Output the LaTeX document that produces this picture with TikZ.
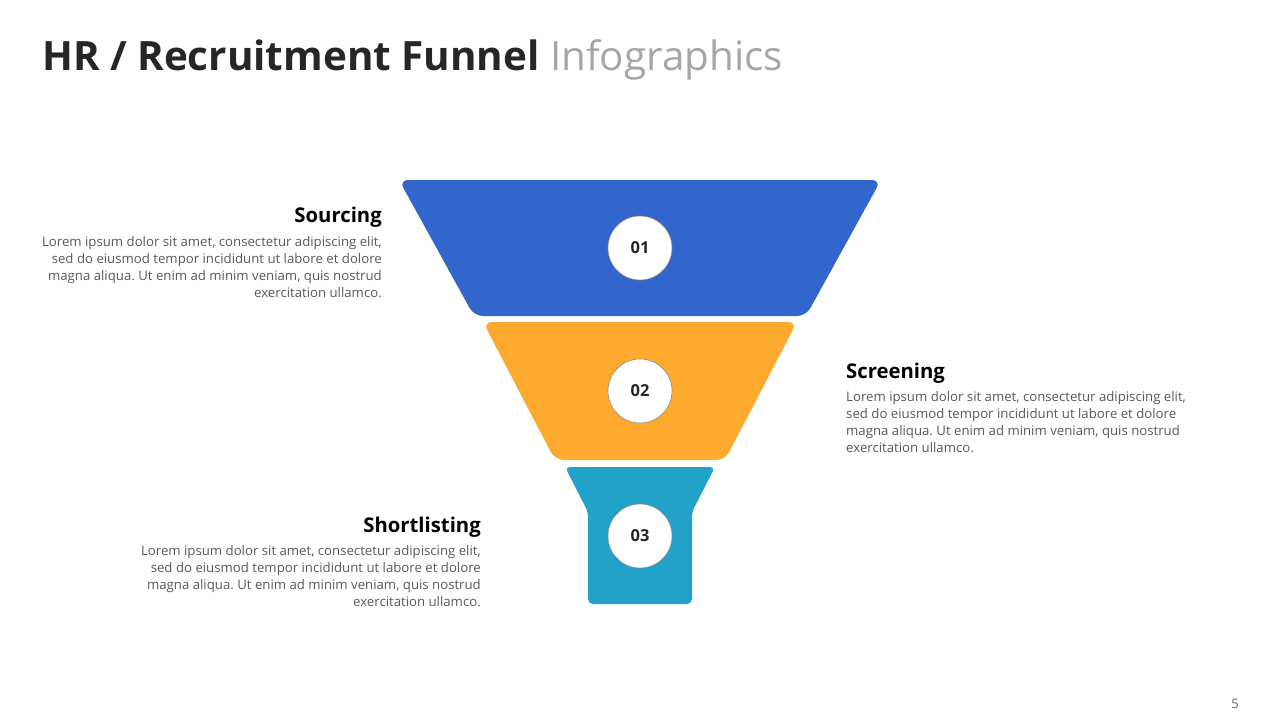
\documentclass[tikz,border=0pt]{standalone}
\usepackage{fontspec}
\setmainfont{Open Sans}
\frenchspacing
\definecolor{fblue}{RGB}{51,102,204}
\definecolor{forange}{RGB}{252,169,46}
\definecolor{fteal}{RGB}{34,161,201}
\definecolor{titledark}{RGB}{38,38,38}
\definecolor{titlegray}{RGB}{166,166,166}
\definecolor{bodygray}{RGB}{89,89,89}
\tikzset{
  stagenum/.style={circle, fill=white, draw=black!45, line width=0.6pt, minimum size=64pt, inner sep=0pt,
    font=\fontsize{16.5}{18}\selectfont\bfseries, text=titledark},
  heading/.style={inner sep=0pt, font=\fontsize{20.3}{24}\selectfont\bfseries, text=black},
  bodytext/.style={inner sep=0pt, font=\fontsize{13.2}{17}\selectfont, text=bodygray},
}
\begin{document}
\begin{tikzpicture}[x=1pt,y=-1pt]
\useasboundingbox[fill=white] (0,0) rectangle (1280,720);
% title
\node[anchor=base west, inner sep=0pt, font=\fontsize{40.4}{44}\selectfont] (title) at (42,70)
  {\textcolor{titledark}{\bfseries HR / Recruitment Funnel} \textcolor{titlegray}{Infographics}};
% funnel
\fill[fblue, rounded corners=9pt] (399,180) -- (881,180) -- (806,316) -- (474,316) -- cycle;
\fill[forange, rounded corners=9pt] (483,322) -- (797,322) -- (725,460) -- (555,460) -- cycle;
\fill[fteal, rounded corners=5pt] (565,467) -- (715,467) -- (692,512) -- (692,604) -- (588,604) -- (588,512) -- cycle;
\node[stagenum] (n1) at (640,248) {01};
\node[stagenum] (n2) at (640,391) {02};
\node[stagenum] (n3) at (640,536) {03};
% Sourcing
\node[heading, anchor=base east] (h1) at (382,222) {Sourcing};
\node[bodytext, anchor=north east, align=right] (b1) at (382,236)
  {Lorem ipsum dolor sit amet, consectetur adipiscing elit,\\
   sed do eiusmod tempor incididunt ut labore et dolore\\
   magna aliqua. Ut enim ad minim veniam, quis nostrud\\
   exercitation ullamco.};
% Screening
\node[heading, anchor=base west] (h2) at (846,378) {Screening};
\node[bodytext, anchor=north west, align=left] (b2) at (846,391)
  {Lorem ipsum dolor sit amet, consectetur adipiscing elit,\\
   sed do eiusmod tempor incididunt ut labore et dolore\\
   magna aliqua. Ut enim ad minim veniam, quis nostrud\\
   exercitation ullamco.};
% Shortlisting
\node[heading, anchor=base east] (h3) at (481,532) {Shortlisting};
\node[bodytext, anchor=north east, align=right] (b3) at (481,545)
  {Lorem ipsum dolor sit amet, consectetur adipiscing elit,\\
   sed do eiusmod tempor incididunt ut labore et dolore\\
   magna aliqua. Ut enim ad minim veniam, quis nostrud\\
   exercitation ullamco.};
% page number
\node[inner sep=0pt, font=\fontsize{13}{15}\selectfont, text=black!60] (pg) at (1235,704) {5};
\end{tikzpicture}
\end{document}
